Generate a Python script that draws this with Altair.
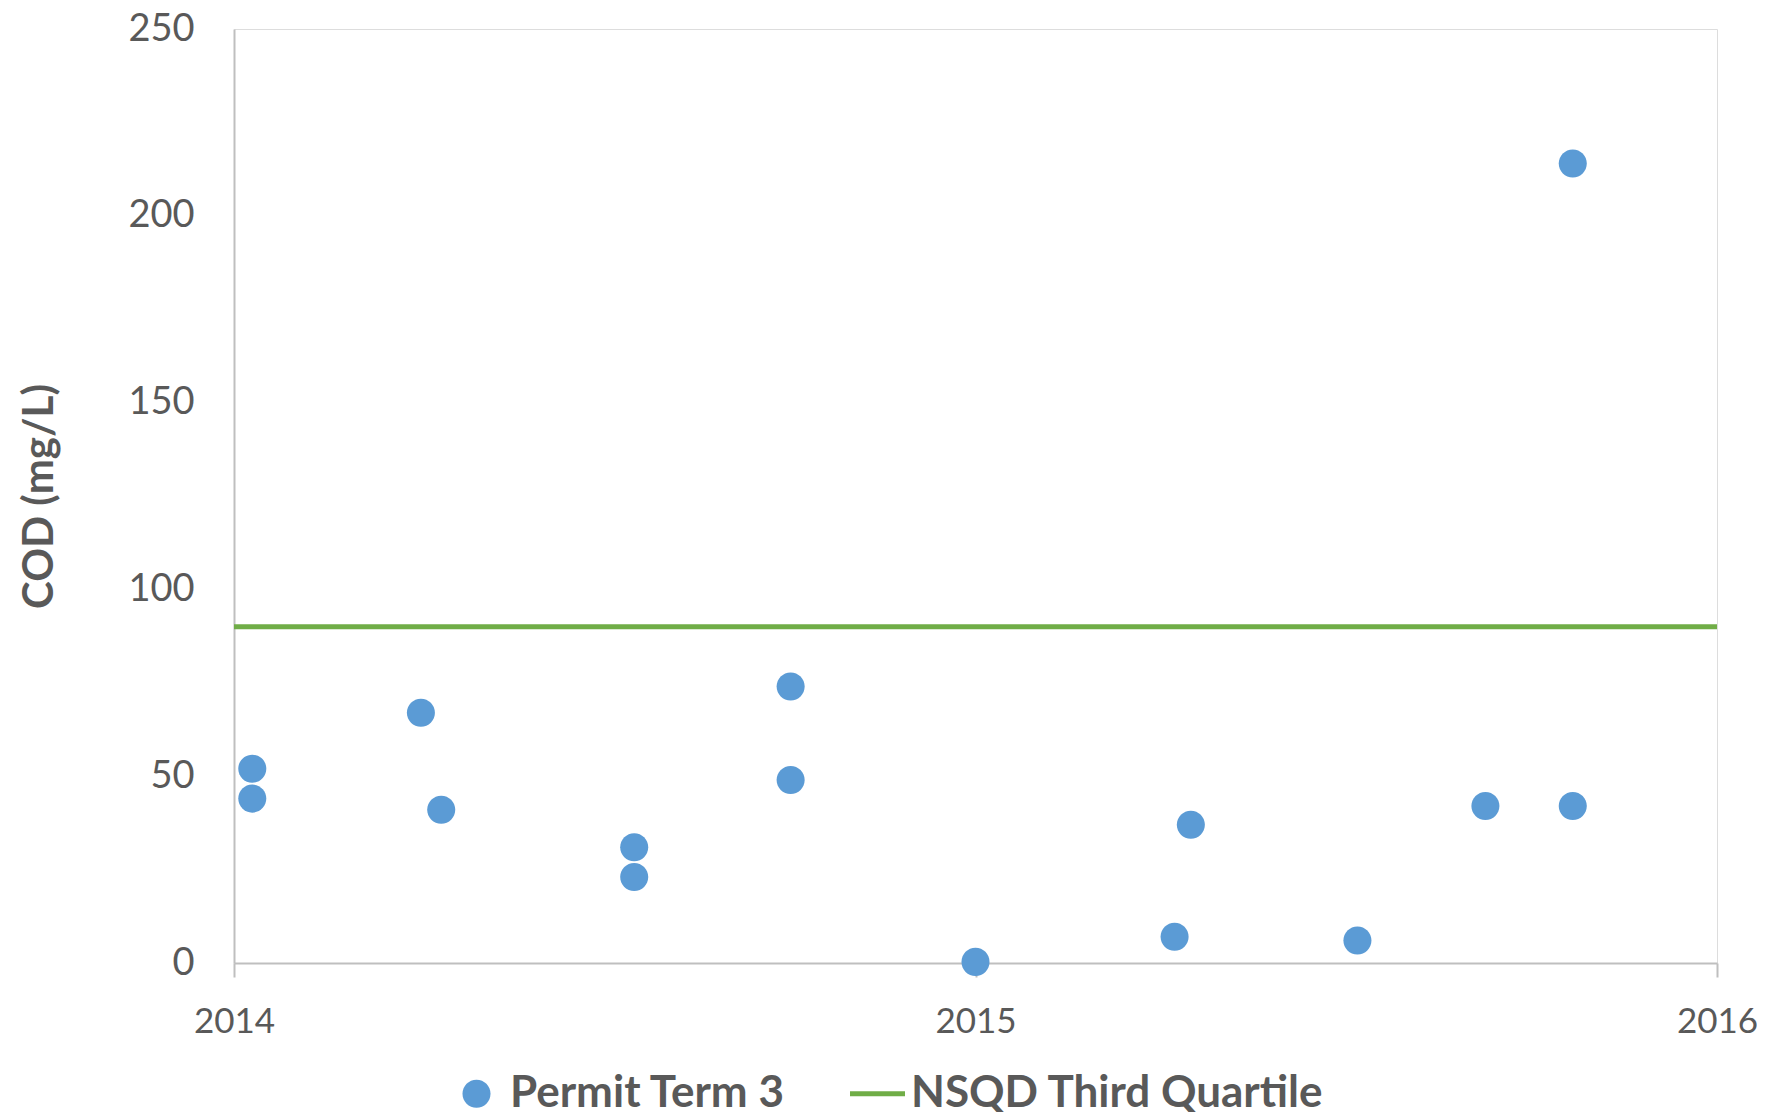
import altair as alt
import pandas as pd

# ---- data ----
sample_dates = ["2014-01-10", "2014-01-10", "2014-04-03", "2014-04-13",
                "2014-07-17", "2014-07-17", "2014-10-02", "2014-10-02",
                "2015-01-01", "2015-04-09", "2015-04-17", "2015-07-08",
                "2015-09-09", "2015-10-22", "2015-10-22"]
cod_values = [52, 44, 67, 41, 31, 23, 74, 49, 0.3, 7, 37, 6, 42, 42, 214]
series_names = ["Permit Term 3", "NSQD Third Quartile"]
nsqd_third_quartile = [90]
y_ticks = [0, 50, 100, 150, 200, 250]
x_tick_years = [2014, 2015, 2016]

points_df = pd.DataFrame({"date": sample_dates, "cod": cod_values,
                          "series": series_names[0]})
rule_df = pd.DataFrame({"cod": nsqd_third_quartile, "series": series_names[1]})

FONT = "Lato"
TEXT = "#595959"
AXIS = "#BFBFBF"

circle_path = "M0.51,0A0.51,0.51,0,1,1,-0.51,0A0.51,0.51,0,1,1,0.51,0Z"
line_path = "M-1,-0.09H1V0.09H-1Z"

color_scale = alt.Scale(domain=series_names, range=["#5B9BD5", "#70AD47"])
shape_scale = alt.Scale(domain=series_names, range=[circle_path, line_path])

legend = alt.Legend(title=None, orient="none", legendX=215, legendY=1037,
                    direction="horizontal", symbolSize=3025, symbolStrokeWidth=0,
                    labelFont=FONT, labelFontSize=44, labelFontWeight="bold",
                    labelColor=TEXT, columnPadding=64, labelOffset=6, labelLimit=0)

x_enc = alt.X("date:T",
              scale=alt.Scale(type="utc", nice=False,
                              domain=[alt.DateTime(year=2014, month=1, date=1, utc=True),
                                      alt.DateTime(year=2016, month=1, date=1, utc=True)]),
              axis=alt.Axis(title=None, format="%Y", formatType="utc",
                            values=[alt.DateTime(year=y, month=1, date=1, utc=True) for y in x_tick_years],
                            labelFont=FONT, labelFontSize=35, labelColor=TEXT,
                            tickSize=14, tickColor=AXIS, tickWidth=2,
                            domainColor=AXIS, domainWidth=2, grid=False,
                            labelPadding=27, labelFlush=False))

y_enc = alt.Y("cod:Q",
              scale=alt.Scale(domain=[0, 250], nice=False),
              axis=alt.Axis(title="COD (mg/L)", values=y_ticks,
                            labelFont=FONT, labelFontSize=38, labelColor=TEXT,
                            ticks=False, domainColor=AXIS, domainWidth=2, grid=False,
                            labelPadding=40, titleFont=FONT, titleFontSize=42,
                            titleFontWeight="bold", titleColor=TEXT, titlePadding=66))

points = alt.Chart(points_df).mark_point(filled=True, size=3025, opacity=1).encode(
    x=x_enc, y=y_enc,
    color=alt.Color("series:N", scale=color_scale, legend=legend),
    shape=alt.Shape("series:N", scale=shape_scale, legend=legend),
)

rule = alt.Chart(rule_df).mark_rule(strokeWidth=5).encode(
    y=alt.Y("cod:Q"),
    color=alt.Color("series:N", scale=color_scale, legend=legend),
)

chart = alt.layer(points, rule).properties(
    width=1483, height=934,
    autosize=alt.AutoSizeParams(type="none"),
    padding={"left": 226, "top": 21, "right": 40, "bottom": 149},
).configure_view(stroke=None).configure(background="white")

chart.save("out.html", embed_options={"renderer": "svg", "actions": False})
